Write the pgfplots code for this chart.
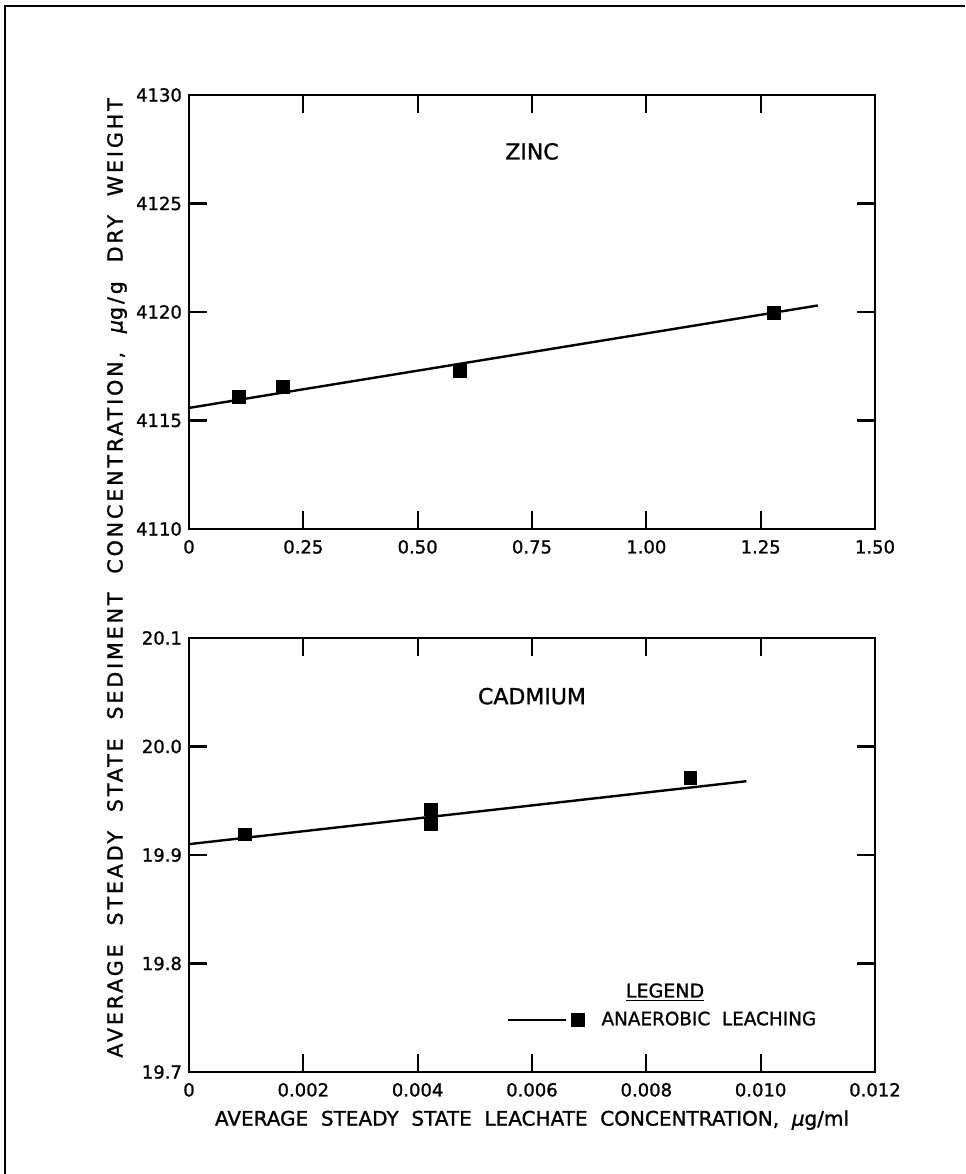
\documentclass[border=0pt]{standalone}
\usepackage{fontspec}
\setmainfont{DejaVu Sans}[FakeBold=1.2]
\newfontfamily\spacedfont{DejaVu Sans}[LetterSpace=14, FakeBold=1.2]
\usepackage{pgfplots}
\pgfplotsset{compat=1.18}

% zinc: measured points and fitted line
\pgfplotstableread{
x      y
0.109  4116.08
0.206  4116.54
0.593  4117.28
1.279  4119.95
}\zincpts
\pgfplotstableread{
x      y
0      4115.58
1.375  4120.30
}\zincfit

% cadmium: measured points and fitted line
\pgfplotstableread{
x        y
0.00098  19.919
0.00423  19.929
0.00423  19.942
0.00877  19.971
}\cdpts
\pgfplotstableread{
x        y
0        19.910
0.00975  19.968
}\cdfit

\pgfplotsset{
  panel/.style={
    scale only axis, width=343pt, height=217pt,
    axis line style={line width=1.4pt},
    every tick/.style={line width=1.1pt, black},
    major tick length=9pt,
    tick align=inside,
    xtick pos=both, ytick pos=both,
    scaled x ticks=false, scaled y ticks=false,
    /pgf/number format/assume math mode=true,
    tick label style={font=\fontsize{9}{11}\selectfont},
    xticklabel style={yshift=-2pt},
    clip=false,
  },
  fitline/.style={black, line width=1.2pt, no marks},
  ptmark/.style={black, only marks, mark=square*, mark size=3.2pt},
}

\begin{document}
\begin{tikzpicture}[x=1pt,y=1pt]
\useasboundingbox (0,0) rectangle (482.5,587);
\draw[line width=1pt] (2.5,0) -- (2.5,584) -- (482.5,584);

% ZINC
\begin{axis}[panel,
  at={(94.5pt,322.5pt)}, anchor=south west,
  xmin=0, xmax=1.5, ymin=4110, ymax=4130,
  xtick={0,0.25,0.5,0.75,1,1.25,1.5},
  xticklabels={0,0.25,0.50,0.75,1.00,1.25,1.50},
  ytick={4110,4115,4120,4125,4130},
  yticklabels={4110,4115,4120,4125,4130},
]
\addplot[fitline] table {\zincfit};
\addplot[ptmark] table {\zincpts};
\node[font=\fontsize{11}{13}\selectfont] at (rel axis cs:0.5,0.87) {ZINC};
\end{axis}

% CADMIUM
\begin{axis}[panel,
  at={(94.5pt,51pt)}, anchor=south west,
  xmin=0, xmax=0.012, ymin=19.7, ymax=20.1,
  xtick={0,0.002,0.004,0.006,0.008,0.010,0.012},
  xticklabels={0,0.002,0.004,0.006,0.008,0.010,0.012},
  ytick={19.7,19.8,19.9,20.0,20.1},
  yticklabels={19.7,19.8,19.9,20.0,20.1},
  xlabel={AVERAGE\ \ STEADY\ \ STATE\ \ LEACHATE\ \ CONCENTRATION,\ \ {\itshape μ}g/ml},
  xlabel style={font=\fontsize{10}{12}\selectfont, yshift=0pt},
  legend style={at={(0.462,0.12)}, anchor=west, draw=none, fill=none,
    inner sep=0pt, font=\fontsize{9.2}{11}\selectfont},
  legend cell align=left,
  legend image code/.code={
    \draw[black, line width=1.2pt] (0pt,0pt) -- (29pt,0pt);
    \draw[black, only marks, mark=square*, mark size=3.2pt] plot coordinates {(35pt,0pt)};
    \path[draw=none, fill=none] (38pt,0pt) -- (45pt,0pt);
  },
]
\addplot[fitline, forget plot] table {\cdfit};
\addplot[ptmark, forget plot] table {\cdpts};
\addlegendimage{black}
\addlegendentry{ANAEROBIC\ \ LEACHING}
\node[font=\fontsize{11}{13}\selectfont] at (rel axis cs:0.5,0.866) {CADMIUM};
\node[font=\fontsize{9.5}{11}\selectfont] at (rel axis cs:0.694,0.183) {\underline{LEGEND}};
\end{axis}

\node[rotate=90, font=\fontsize{10.3}{12}\spacedfont] at (58.5,298)
  {AVERAGE\ \ STEADY\ \ STATE\ \ SEDIMENT\ \ CONCENTRATION,\ \ {\itshape μ}g/g\ \ DRY\ \ WEIGHT};
\end{tikzpicture}
\end{document}
